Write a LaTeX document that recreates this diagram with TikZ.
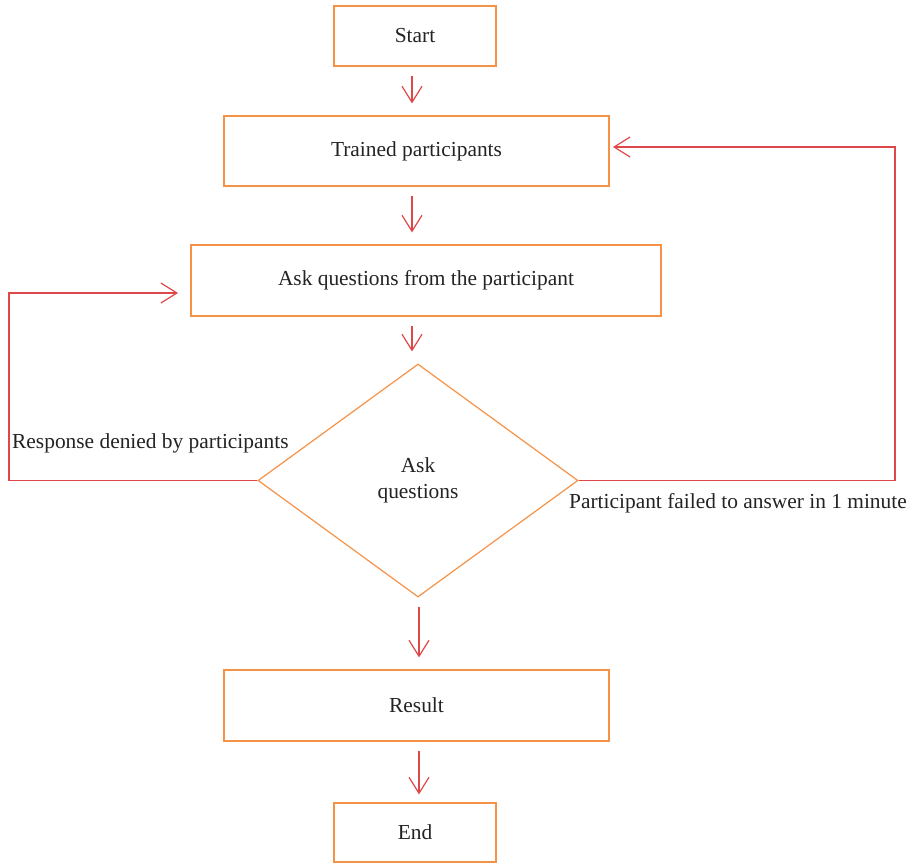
\documentclass[tikz,border=0pt]{standalone}
\usepackage{fontspec}
\setmainfont{Liberation Serif}
\usetikzlibrary{arrows.meta,positioning,shapes.geometric}
\definecolor{boxline}{RGB}{246,146,70}
\definecolor{flow}{RGB}{222,72,72}
\definecolor{ink}{RGB}{35,35,35}

\begin{document}
\begin{tikzpicture}[x=1pt, y=-1pt,
    stepbox/.style={draw=boxline, line width=1.2pt, text=ink, font=\fontsize{21.4}{24}\selectfont},
    decision/.style={diamond, draw=boxline, line width=1.2pt, text=ink, align=center,
      font=\fontsize{21.4}{26}\selectfont, minimum width=320pt, minimum height=233pt, inner sep=0pt},
    arr/.style={-{Straight Barb[length=16pt, width=20pt]}, flow, line width=1.2pt,
      shorten <=9pt, shorten >=12pt},
    note/.style={text=ink, font=\fontsize{21.4}{24}\selectfont, anchor=base west, inner sep=0pt}]
    \useasboundingbox (0,0) rectangle (906,863);
    % boxes
    \node[stepbox, minimum width=162pt, minimum height=60pt] (start) at (415,36) {Start};
    \node[stepbox, minimum width=385pt, minimum height=70pt] (trained) at (416.5,151) {Trained participants};
    \node[stepbox, minimum width=470pt, minimum height=71pt] (ask) at (426,280.5) {Ask questions from the participant};
    \node[decision] (decide) at (418,480.5) {Ask\\questions};
    \node[stepbox, minimum width=385pt, minimum height=71pt] (result) at (416.5,705.5) {Result};
    \node[stepbox, minimum width=162pt, minimum height=59pt] (finish) at (415,832.5) {End};
    % main flow
    \draw[arr] ([xshift=-3pt]start.south) -- ([xshift=-3pt]start.south |- trained.north);
    \draw[arr] ([xshift=-4.5pt]trained.south) -- ([xshift=-4.5pt]trained.south |- ask.north);
    \draw[arr] ([xshift=-14pt]ask.south) -- ([xshift=-14pt]ask.south |- decide.north);
    \draw[arr] ([xshift=1pt]decide.south) -- ([xshift=1pt]decide.south |- result.north);
    \draw[arr, shorten >=8pt] ([xshift=2.5pt]result.south) -- ([xshift=2.5pt]result.south |- finish.north);
    % loops back
    \coordinate (leftx) at (9,0);
    \coordinate (askin) at (178,293);
    \coordinate (rightx) at (895,0);
    \coordinate (trainedin) at (613,147);
    \draw[arr, shorten <=0pt, shorten >=0pt] (decide.west) -- (decide.west -| leftx) |- (askin);
    \draw[arr, shorten <=0pt, shorten >=0pt] (decide.east) -- (decide.east -| rightx) |- (trainedin);
    % loop labels
    \node[note] (denied) at (12,448) {Response denied by participants};
    \node[note] (failed) at (569,508) {Participant failed to answer in 1 minute};
\end{tikzpicture}
\end{document}
